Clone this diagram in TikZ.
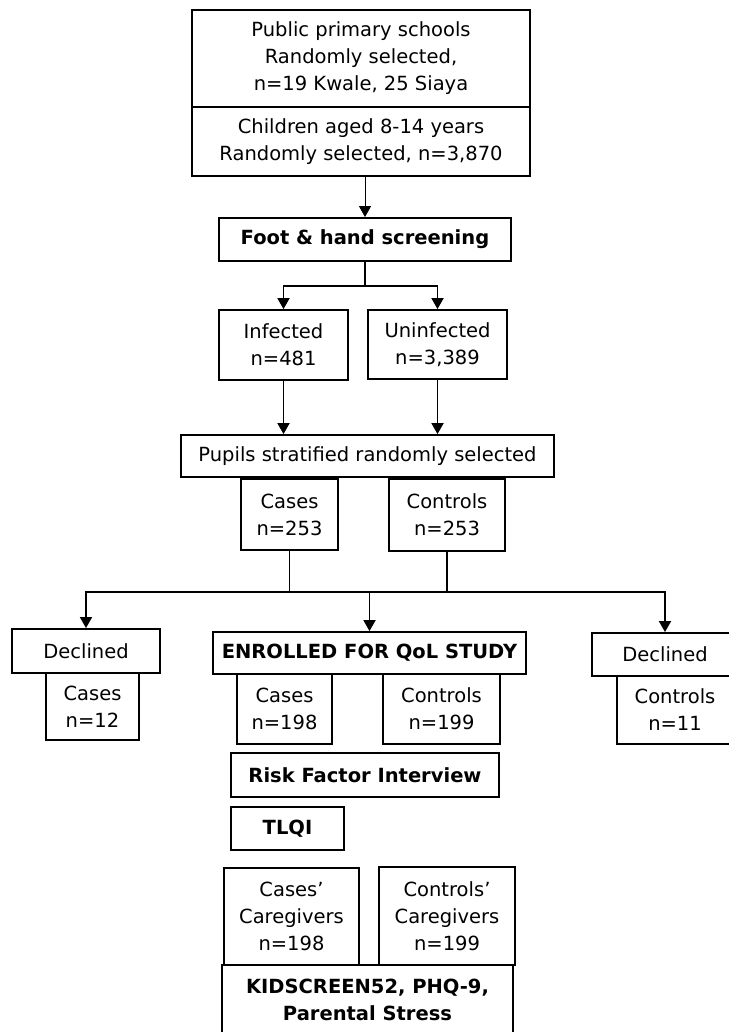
\documentclass[tikz,border=0pt]{standalone}
\usepackage{fontspec}
\setmainfont{DejaVu Sans}
\usetikzlibrary{arrows.meta}

\begin{document}
\begin{tikzpicture}[
    x=1pt, y=-1pt,
    font=\fontsize{19.5}{27}\selectfont,
    box/.style={draw, line width=1.8pt, align=center, inner sep=0pt}, % plain box
    hbox/.style={box, font=\fontsize{19.5}{27}\selectfont\bfseries}, % bold box
    link/.style={line width=1.8pt}, % joining line
    arr/.style={link, -{Triangle[length=11pt, width=12pt]}} % arrow
    ]
    \useasboundingbox (0,0) rectangle (728,1032);
    % sampling
    \node[box, minimum width=338, minimum height=97] (schools) at (361,58.5) {Public primary schools\\Randomly selected,\\n=19 Kwale, 25 Siaya};
    \node[box, minimum width=338, minimum height=69] (children) at (361,141.5) {Children aged 8-14 years\\Randomly selected, n=3,870};
    \node[hbox, minimum width=292, minimum height=43] (foot) at (365,239.5) {Foot \& hand screening};
    \node[box, minimum width=129, minimum height=70] (infected) at (283.5,345) {Infected\\n=481};
    \node[box, minimum width=139, minimum height=69] (uninfected) at (437.5,344.5) {Uninfected\\n=3,389};
    \node[box, minimum width=373, minimum height=42] (pupils) at (367.5,456) {Pupils stratified randomly selected};
    \node[box, minimum width=97, minimum height=71] (cases253) at (289.5,514.5) {Cases\\n=253};
    \node[box, minimum width=116, minimum height=72] (controls253) at (447,515) {Controls\\n=253};
    % enrolment
    \node[box, minimum width=148, minimum height=44] (declinedL) at (86,651) {Declined};
    \node[box, minimum width=93, minimum height=67] (cases12) at (92.5,706.5) {Cases\\n=12};
    \node[hbox, minimum width=313, minimum height=42] (enrolled) at (369.5,653) {ENROLLED FOR QoL STUDY};
    \node[box, minimum width=95, minimum height=70] (cases198) at (284.5,709) {Cases\\n=198};
    \node[box, minimum width=117, minimum height=70] (controls199) at (441.5,709) {Controls\\n=199};
    \node[box, minimum width=146, minimum height=43] (declinedR) at (665,654.5) {Declined};
    \node[box, minimum width=116, minimum height=68] (controls11) at (675,710) {Controls\\n=11};
    % instruments
    \node[hbox, minimum width=268, minimum height=44] (risk) at (365,775) {Risk Factor Interview};
    \node[hbox, minimum width=113, minimum height=43] (tlqi) at (287.5,828.5) {TLQI};
    \node[box, minimum width=135, minimum height=97] (casesCG) at (291.5,916.5) {Cases’\\Caregivers\\n=198};
    \node[box, minimum width=136, minimum height=98] (controlsCG) at (447,916) {Controls’\\Caregivers\\n=199};
    \node[hbox, minimum width=291, minimum height=90, text depth=21pt] (kid) at (367.5,1010) {KIDSCREEN52, PHQ-9,\\Parental Stress};
    % connectors
    \draw[arr, line width=0.9pt] (foot.north |- children.south) -- (foot.north);
    \coordinate (fork) at ([yshift=-24pt]foot.south);
    \draw[link] (foot.south) -- (fork);
    \draw[arr] (fork) -| (infected.north);
    \draw[arr] (fork) -| (uninfected.north);
    \draw[arr] (infected.south) -- (infected.south |- pupils.north);
    \draw[arr] (uninfected.south) -- (uninfected.south |- pupils.north);
    \coordinate (joinL) at ([yshift=-41pt]cases253.south);
    \coordinate (joinR) at (controls253.south |- joinL);
    \draw[link] (cases253.south) -- (joinL) -- (joinR) -- (controls253.south);
    \draw[arr] (joinL) -| (declinedL.north);
    \draw[arr] (joinR) -| (declinedR.north);
    \draw[arr] (joinL -| enrolled.north) -- (enrolled.north);
\end{tikzpicture}
\end{document}
